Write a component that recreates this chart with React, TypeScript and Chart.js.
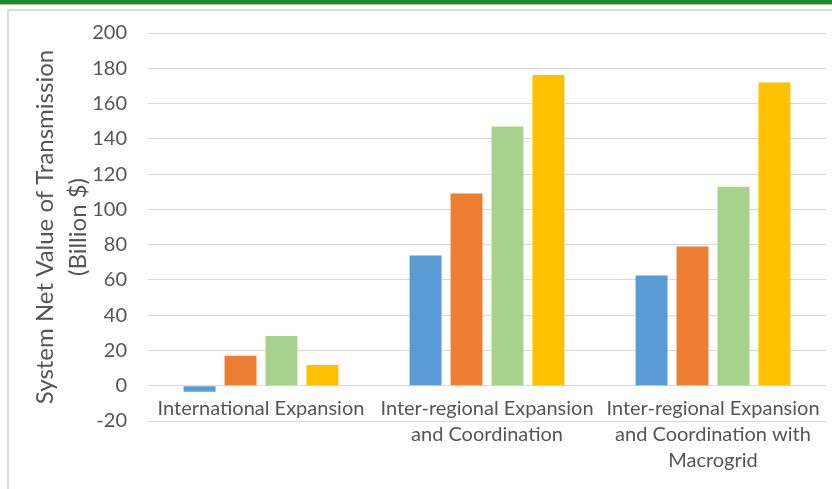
import React, { useEffect, useRef } from "react";
import { Chart, registerables } from "chart.js";

Chart.register(...registerables);

const categories: (string | string[])[] = [
  "International Expansion",
  ["Inter-regional Expansion", "and Coordination"],
  ["Inter-regional Expansion", "and Coordination with", "Macrogrid"],
];
const seriesBlue = [-3.4, 73.8, 62.5];
const seriesOrange = [17.0, 109.0, 79.0];
const seriesGreen = [28.2, 147.0, 112.8];
const seriesYellow = [11.8, 176.2, 172.0];
const yMin = -20;
const yMax = 200;
const yStep = 20;
const yTitle = ["System Net Value of Transmission", "(Billion $)"];

const FONT = "Lato";
const TEXT = "#555555";

export default function App() {
  const ref = useRef<HTMLCanvasElement | null>(null);
  useEffect(() => {
    document.body.style.margin = "0";
    const canvas = ref.current;
    if (!canvas) return;
    const chart = new Chart(canvas, {
      type: "bar",
      data: {
        labels: categories,
        datasets: [
          { label: "Series 1", data: seriesBlue, backgroundColor: "#5B9BD5" },
          { label: "Series 2", data: seriesOrange, backgroundColor: "#ED7D31" },
          { label: "Series 3", data: seriesGreen, backgroundColor: "#A9D18E" },
          { label: "Series 4", data: seriesYellow, backgroundColor: "#FFC000" },
        ],
      },
      options: {
        responsive: false,
        animation: false,
        datasets: {
          bar: { categoryPercentage: 0.725, barPercentage: 0.78 },
        },
        layout: { padding: { left: 0, top: 31, right: 6, bottom: 68 } },
        plugins: { legend: { display: false }, tooltip: { enabled: false } },
        scales: {
          x: {
            position: { y: 0 },
            grid: { display: false, drawTicks: false },
            border: { display: false },
            ticks: {
              autoSkip: false,
              maxRotation: 0,
              minRotation: 0,
              padding: 10,
              color: TEXT,
              font: { family: FONT, size: 20, lineHeight: 1.3 },
            },
            afterFit: (s: any) => {
              s.height = 0;
            },
          },
          y: {
            min: yMin,
            max: yMax,
            grid: { color: "#d9d9d9", lineWidth: 1, drawTicks: false },
            border: { display: false },
            ticks: {
              stepSize: yStep,
              padding: 21,
              color: TEXT,
              font: { family: FONT, size: 20 },
            },
            title: {
              display: true,
              text: yTitle,
              color: TEXT,
              padding: { top: 28.5, bottom: 0 },
              font: { family: FONT, size: 24, lineHeight: 1.375 },
            },
            afterFit: (s: any) => {
              s.width = 148;
            },
          },
        },
      },
    });
    return () => chart.destroy();
  }, []);

  return (
    <div style={{ position: "relative", width: 832, height: 489, background: "#fff", overflow: "hidden" }}>
      <div style={{ position: "absolute", left: 0, top: 0, width: 832, height: 4, background: "#1d8a30" }} />
      <div style={{ position: "absolute", left: 0, top: 4, width: 832, height: 1, background: "#a3d59c" }} />
      <div
        style={{
          position: "absolute",
          left: 7,
          top: 9,
          width: 825,
          height: 480,
          borderTop: "2px solid #dcdcdc",
          borderLeft: "2px solid #dcdcdc",
          boxSizing: "border-box",
        }}
      />
      <canvas ref={ref} width={832} height={489} style={{ position: "absolute", left: 0, top: 0 }} />
    </div>
  );
}
